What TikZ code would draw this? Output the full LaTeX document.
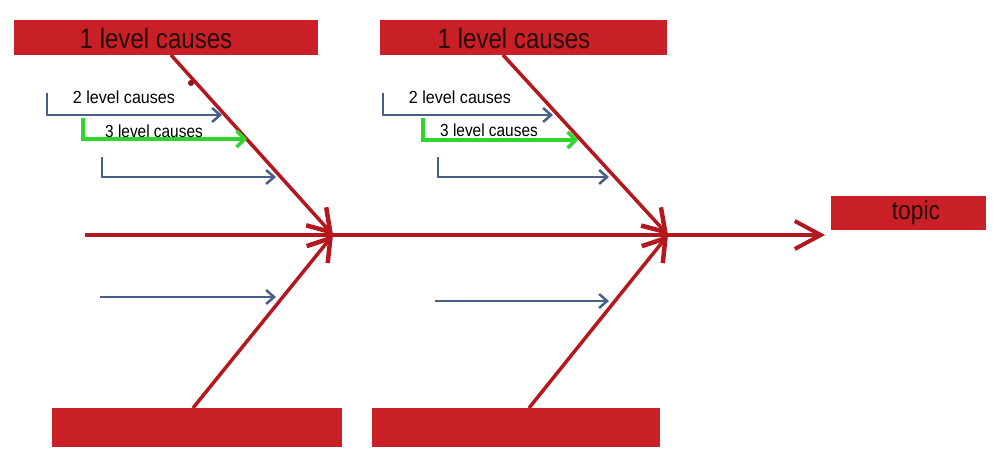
\documentclass[tikz,border=0pt]{standalone}
\usepackage{fontspec}
\usepackage{graphicx}
\setmainfont{Liberation Sans}
\usetikzlibrary{arrows.meta}
\definecolor{boxred}{RGB}{200,32,38}
\definecolor{bonered}{RGB}{180,24,30}
\definecolor{causeblue}{RGB}{72,96,135}
\definecolor{causegreen}{RGB}{45,215,45}
\definecolor{txtdark}{RGB}{40,10,10}
\newcommand{\cond}[2][0.86]{\scalebox{#1}[1]{#2}}
\begin{document}
\begin{tikzpicture}[x=1pt,y=-1pt,
  catbox/.style={fill=boxred, draw=none, inner sep=0pt},
  cattext/.style={text=txtdark, inner sep=0pt, font=\fontsize{28}{28}\selectfont},
  subtext/.style={text=black, inner sep=0pt, font=\fontsize{17.5}{17.5}\selectfont},
  bone/.style={draw=bonered, line width=3.5pt, -{Straight Barb[length=21pt,width=27pt,line width=4.5pt]}},
  spine/.style={draw=bonered, line width=3.5pt, -{Straight Barb[length=26pt,width=28pt,line width=4pt]}},
  bluearrow/.style={draw=causeblue, line width=2.5pt, -{Straight Barb[length=8pt,width=14pt,line width=2.5pt]}},
  greenarrow/.style={draw=causegreen, line width=4pt, -{Straight Barb[length=8pt,width=16pt,line width=3.5pt]}}]
\useasboundingbox (0,0) rectangle (993,454);
\fill[white] (0,0) rectangle (993,454);

% category boxes
\node[catbox, minimum width=304pt, minimum height=35pt] (t1) at (166,37.5) {};
\node[catbox, minimum width=287pt, minimum height=35pt] (t2) at (523.5,37.5) {};
\node[catbox, minimum width=290pt, minimum height=39pt] (b1) at (197,427.5) {};
\node[catbox, minimum width=288pt, minimum height=39pt] (b2) at (516,427.5) {};
\node[catbox, minimum width=155pt, minimum height=34pt] (topic) at (908,213) {};
\node[cattext] (t1l) at (156,38) {\cond{1 level causes}};
\node[cattext] (t2l) at (514,38) {\cond{1 level causes}};
\node[cattext, font=\fontsize{26}{26}\selectfont] (topicl) at (916,213) {\cond[0.88]{topic}};

% junctions
\coordinate (j1) at (333,235);
\coordinate (j2) at (668,235);
\coordinate (s0) at (85,235);
\coordinate (send) at (825,235);

% spine
\draw[spine] (s0) -- (send);

% bones
\coordinate (t1s) at (171,55);
\coordinate (t2s) at (503,55);
\coordinate (b1s) at (193,408);
\coordinate (b2s) at (529,408);
\draw[bone] (t1s) -- (j1);
\draw[bone] (b1s) -- (j1);
\draw[bone] (t2s) -- (j2);
\draw[bone] (b2s) -- (j2);

\node[circle, fill=bonered!80!black, inner sep=0pt, minimum size=6pt] (dot) at (191,83) {};

% group 1 causes
\coordinate (a1s) at (47,93);   \coordinate (a1e) at (222,115);
\coordinate (g1s) at (83,118);  \coordinate (g1e) at (247,139);
\coordinate (c1s) at (102,157); \coordinate (c1e) at (276,177);
\coordinate (d1s) at (100,297); \coordinate (d1e) at (276,297);
\draw[bluearrow] (a1s) |- (a1e);
\draw[greenarrow] (g1s) |- (g1e);
\draw[bluearrow] (c1s) |- (c1e);
\draw[bluearrow] (d1s) -- (d1e);
\node[subtext] (l2a) at (124,97) {\cond[0.92]{2 level causes}};
\node[subtext] (l3a) at (154,131) {\cond[0.88]{3 level causes}};

% group 2 causes
\coordinate (a2s) at (383,93);  \coordinate (a2e) at (553,115);
\coordinate (g2s) at (423,118); \coordinate (g2e) at (578,140);
\coordinate (c2s) at (438,157); \coordinate (c2e) at (609,177);
\coordinate (d2s) at (435,301); \coordinate (d2e) at (609,301);
\draw[bluearrow] (a2s) |- (a2e);
\draw[greenarrow] (g2s) |- (g2e);
\draw[bluearrow] (c2s) |- (c2e);
\draw[bluearrow] (d2s) -- (d2e);
\node[subtext] (l2b) at (460,97) {\cond[0.92]{2 level causes}};
\node[subtext] (l3b) at (489,130) {\cond[0.88]{3 level causes}};
\end{tikzpicture}
\end{document}
